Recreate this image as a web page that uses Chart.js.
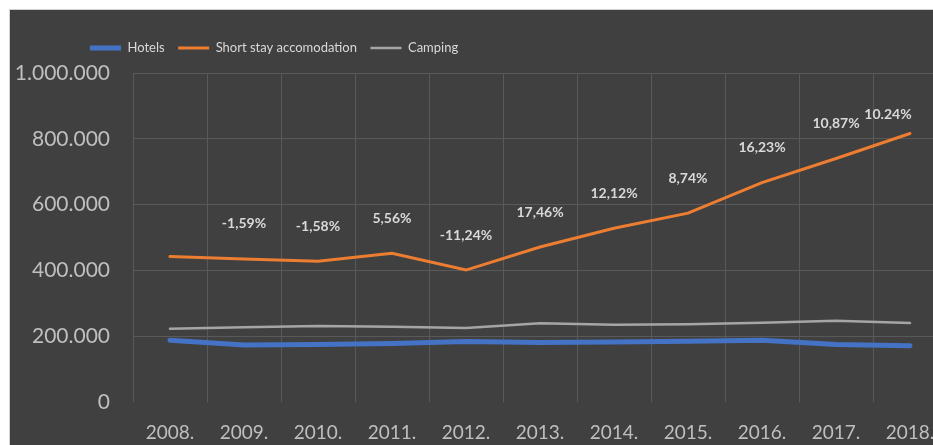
<!DOCTYPE html>
<html>
<head>
<meta charset="utf-8">
<title>Accommodation</title>
<script src="https://cdn.jsdelivr.net/npm/chart.js@4.4.1/dist/chart.umd.min.js"></script>
<style>
  html, body { margin: 0; padding: 0; background: #fff; overflow: hidden; }
  #box {
    position: absolute; left: 9px; top: 9px;
    width: 937px; height: 436px;
    background: #404040;
    border-left: 1px solid #d0d0d0; border-top: 1px solid #d0d0d0;
  }
</style>
</head>
<body>
<div id="box"><canvas id="chart"></canvas></div>
<script>
// data
const years = ['2008.', '2009.', '2010.', '2011.', '2012.', '2013.', '2014.', '2015.', '2016.', '2017.', '2018.'];
const hotels = [188000, 173000, 175000, 178000, 184000, 181000, 182000, 185000, 188000, 175000, 171000];
const shortStay = [442000, 435000, 428000, 452000, 401000, 471000, 528000, 574000, 667000, 740000, 816000];
const camping = [223000, 227000, 231000, 229000, 225000, 239000, 235000, 236000, 241000, 247000, 240000];
const growth = ['', '-1,59%', '-1,58%', '5,56%', '-11,24%', '17,46%', '12,12%', '8,74%', '16,23%', '10,87%', '10.24%'];
const yTicks = [0, 200000, 400000, 600000, 800000, 1000000];

const FONT = 'Lato, "Open Sans", sans-serif';

function dots(v) {
  return String(v).replace(/\B(?=(\d{3})+(?!\d))/g, '.');
}

// growth labels above the orange line
const growthLabels = {
  id: 'growthLabels',
  afterDatasetsDraw(chart) {
    const meta = chart.getDatasetMeta(1);
    const ctx = chart.ctx;
    ctx.save();
    ctx.font = 'bold 14px ' + FONT;
    ctx.fillStyle = '#d9d9d9';
    ctx.textAlign = 'center';
    ctx.textBaseline = 'middle';
    meta.data.forEach((pt, i) => {
      if (!growth[i]) return;
      let dx = 0, dy = -35;
      if (i === growth.length - 1) { dx = -22; dy = -19; }
      ctx.fillText(growth[i], pt.x + dx, pt.y + dy);
    });
    ctx.restore();
  }
};

// legend sits left of centre in the original
const legendPlace = {
  id: 'legendPlace',
  afterLayout(chart) {
    const lg = chart.legend;
    lg.left = 66.5;
    lg.top = 18;
  }
};

const ctx = document.getElementById('chart').getContext('2d');
new Chart(ctx, {
  type: 'line',
  data: {
    labels: years,
    datasets: [
      { label: 'Hotels', data: hotels, borderColor: '#4472c4', backgroundColor: '#4472c4', borderWidth: 5, borderCapStyle: 'round' },
      { label: 'Short stay accomodation', data: shortStay, borderColor: '#ed7d31', backgroundColor: '#ed7d31', borderWidth: 3, borderCapStyle: 'round' },
      { label: 'Camping', data: camping, borderColor: '#a5a5a5', backgroundColor: '#a5a5a5', borderWidth: 2.5, borderCapStyle: 'round' },
    ],
  },
  options: {
    responsive: true,
    maintainAspectRatio: false,
    animation: false,
    layout: { padding: { top: 26.5, left: 0, right: 0, bottom: 0 } },
    elements: { point: { radius: 0 }, line: { tension: 0 } },
    plugins: {
      legend: {
        position: 'top',
        align: 'start',
        labels: {
          usePointStyle: true,
          pointStyle: 'line',
          pointStyleWidth: 31,
          padding: 13.5,
          color: '#d9d9d9',
          font: { family: FONT, size: 13 },
        },
      },
      tooltip: { enabled: false },
    },
    scales: {
      x: {
        offset: true,
        grid: { offset: true, color: '#595959', lineWidth: 1, drawTicks: true, tickLength: 19, tickColor: 'rgba(0,0,0,0)' },
        border: { display: false },
        ticks: { color: '#bfbfbf', padding: 0, maxRotation: 0, font: { family: FONT, size: 19 } },
        afterFit(scale) { scale.height = 44; },
      },
      y: {
        min: 0,
        max: 1000000,
        afterBuildTicks(scale) { scale.ticks = yTicks.map(v => ({ value: v })); },
        grid: {
          color: c => (c.tick && c.tick.value === 0 ? 'rgba(0,0,0,0)' : '#595959'),
          lineWidth: 1,
          drawTicks: false,
        },
        border: { display: false },
        ticks: { color: '#bfbfbf', padding: 23, font: { family: FONT, size: 21 }, callback: v => dots(v) },
        afterFit(scale) { scale.width = 123; },
      },
    },
  },
  plugins: [growthLabels, legendPlace],
});
</script>
</body>
</html>
